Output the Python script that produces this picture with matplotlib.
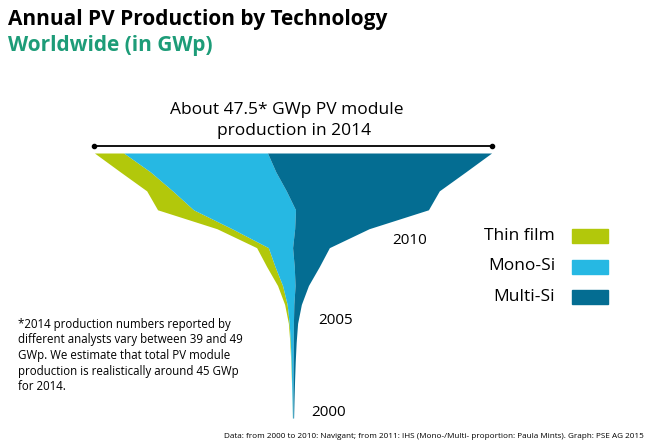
import numpy as np
import matplotlib
matplotlib.use("Agg")
import matplotlib.pyplot as plt
from matplotlib.patches import Rectangle

# Annual production in GWp
years = [2000, 2001, 2002, 2003, 2004, 2005, 2006, 2007,
         2008, 2009, 2010, 2011, 2012, 2013, 2014]
thin_film = [0.005, 0.01, 0.02, 0.04, 0.06, 0.1, 0.3, 0.6,
             1.0, 1.4, 1.8, 4.3, 3.1, 3.6, 3.5]
mono_si = [0.07, 0.12, 0.18, 0.25, 0.35, 0.5, 0.8, 1.5,
           2.3, 2.9, 7.5, 12.2, 13.6, 15.0, 17.2]
multi_si = [0.07, 0.12, 0.18, 0.25, 0.35, 0.5, 0.9, 1.6,
            3.0, 4.4, 8.9, 15.9, 18.3, 22.7, 26.8]

labels = ["Thin film", "Mono-Si", "Multi-Si"]
colors = ["#b2c80b", "#26b8e3", "#046d92"]
year_marks = [2010, 2005, 2000]

W, H = 648, 446
fig = plt.figure(figsize=(W / 100, H / 100), dpi=100)

# axes laid so that 2000 sits at pixel row 418 and 2014 at 153, centre column 293
px_per_gw = 8.36
ax = fig.add_axes([0, (H - 418) / H, 1, (418 - 153) / H])
ax.set_xlim(-293 / px_per_gw, (W - 293) / px_per_gw)
ax.set_ylim(2000, 2014)
ax.axis("off")

y = np.array(years)
series = np.array([thin_film, mono_si, multi_si])
total = series.sum(axis=0)
left = -total / 2
for vals, col in zip(series, colors):
    ax.fill_betweenx(y, left, left + vals, color=col, lw=0)
    left = left + vals

# bracket over the 2014 width
yb = 2014 + 7 * 14 / (418 - 153)
ax.plot([-total[-1] / 2, total[-1] / 2], [yb, yb], color="black", lw=1.3,
        marker="o", ms=3, clip_on=False)

font = "Open Sans"

def px(x, yy):
    return x / W, 1 - yy / H

fig.text(*px(8, 19), "Annual PV Production by Technology", fontsize=15,
         fontweight="bold", family=font, va="center", ha="left")
fig.text(*px(8, 45), "Worldwide (in GWp)", fontsize=15, fontweight="bold",
         family=font, color="#1d9c78", va="center", ha="left")

fig.text(*px(287, 110), "About 47.5* GWp PV module", fontsize=12.5,
         family=font, va="center", ha="center")
fig.text(*px(294, 131), "production in 2014", fontsize=12.5,
         family=font, va="center", ha="center")

for yr, (xx, yy) in zip(year_marks, [(410, 240), (336, 320), (329, 413)]):
    fig.text(*px(xx, yy), str(yr), fontsize=11, family=font,
             va="center", ha="center")

for i, (lab, col) in enumerate(zip(labels, colors)):
    yc = 236 + i * 30.5
    fig.text(*px(555, yc), lab, fontsize=12.5, family=font,
             va="center", ha="right")
    fig.patches.append(Rectangle(px(572, yc + 7), 36 / W, 14 / H,
                                 transform=fig.transFigure, color=col))

note = ("*2014 production numbers reported by\n"
        "different analysts vary between 39 and 49\n"
        "GWp. We estimate that total PV module\n"
        "production is realistically around 45 GWp\n"
        "for 2014.")
fig.text(*px(18, 318), note, fontsize=8.3, family=font, va="top",
         ha="left", linespacing=1.25)

fig.text(*px(644, 437), "Data: from 2000 to 2010: Navigant; from 2011: IHS "
         "(Mono-/Multi- proportion: Paula Mints). Graph: PSE AG 2015",
         fontsize=5.9, family=font, va="center", ha="right")

fig.savefig("out.png", dpi=100)
